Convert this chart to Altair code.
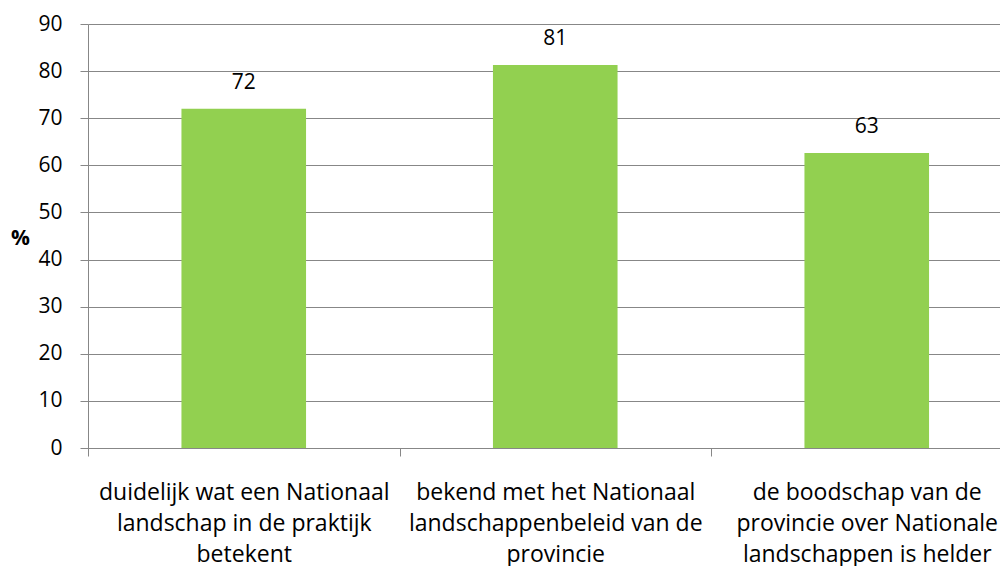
import altair as alt
import pandas as pd

categories = [
    ["duidelijk wat een Nationaal", "landschap in de praktijk", "betekent"],
    ["bekend met het Nationaal", "landschappenbeleid van de", "provincie"],
    ["de boodschap van de", "provincie over Nationale", "landschappen is helder"],
]
keys = ["a", "b", "c"]
values = [72.0, 81.3, 62.6]
labels = ["72", "81", "63"]

df = pd.DataFrame({"key": keys, "value": values, "label": labels})
label_expr = ("datum.value == 'a' ? " + str(categories[0]) +
              " : datum.value == 'b' ? " + str(categories[1]) +
              " : datum.value == 'c' ? " + str(categories[2]) + " : ''")

FONT = "Open Sans"
GRAY = "#878787"

xscale = alt.Scale(range=[0, 934.5], paddingInner=0, paddingOuter=0)

x = alt.X("key:N", sort=keys, title=None, scale=xscale,
          axis=alt.Axis(labelExpr=label_expr, labelAngle=0, labelFont=FONT,
                        labelFontSize=23, labelColor="#000000", labelLineHeight=31,
                        labelBaseline="top", labelPadding=25, tickBand="extent",
                        tickSize=8, tickColor=GRAY, domainColor=GRAY,
                        labelLimit=400, labelOverlap=False, labelFlush=False,
                        labelBound=False, grid=False))

y = alt.Y("value:Q", title="%",
          scale=alt.Scale(domain=[0, 90], nice=False),
          axis=alt.Axis(values=list(range(0, 100, 10)), labelFont=FONT,
                        labelFontSize=21, labelColor="#000000", labelPadding=18,
                        tickSize=8, tickColor=GRAY, domainColor=GRAY,
                        gridColor=GRAY, titleAngle=0, titleFont=FONT,
                        titleFontSize=21, titleFontWeight="bold",
                        titleColor="#000000", titleX=-68, titleY=214,
                        titleAlign="center", titleBaseline="middle"))

bars = alt.Chart(df).mark_bar(color="#92D050", size=124.6).encode(x=x, y=y)
text = alt.Chart(df).mark_text(font=FONT, fontSize=21, color="#000000",
                               baseline="middle", dy=-26).encode(
    x=alt.X("key:N", sort=keys), y=alt.Y("value:Q"), text="label:N")

chart = (bars + text).properties(
    width=912, height=424,
    autosize=alt.AutoSizeParams(type="none"),
    padding={"left": 80, "top": 16, "right": 0, "bottom": 118},
).configure_view(stroke=None)

chart.save("out.html", embed_options={"renderer": "svg", "actions": False})
